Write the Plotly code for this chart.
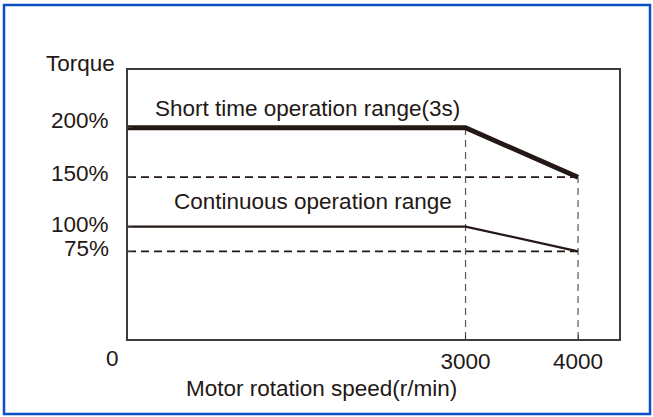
import plotly.graph_objects as go

# Torque characteristics (speed in r/min, torque in %)
speed_points = [0, 3000, 4000]
short_time_torque = [200, 200, 150]
continuous_torque = [100, 100, 75]

speed_ticks = [3000, 4000]
speed_tick_labels = ["3000", "4000"]
torque_ticks = [75, 100, 150, 200]
torque_tick_labels = ["75%", "100%", "150%", "200%"]

short_label = "Short time operation range(3s)"
cont_label = "Continuous operation range"
x_title = "Motor rotation speed(r/min)"
y_title = "Torque"

INK = "#231815"
FRAME = "#3c3c3c"
BLUE = "#0a50c4"
FONT = "Liberation Sans, Arial, Helvetica, sans-serif"
FS = 22.5

W, H = 653, 417
ML, MR, MT, MB = 128, 34, 70, 78
PW, PH = W - ML - MR, H - MT - MB

X_RANGE = [0, 4364]
Y_RANGE = [-13.6, 258.4]

# small upward nudges of the torque labels (px), in tick order
TORQUE_LABEL_SHIFT = [2.5, 2, 4, 7.5]


def px_to_paper_x(px):
    return (px - ML) / PW


def px_to_paper_y(py):
    return (H - MB - py) / PH


def txt(**kw):
    base = dict(showarrow=False, font=dict(size=FS, color=INK, family=FONT))
    base.update(kw)
    return base


fig = go.Figure()

# Dashed reference lines at the reduced torque levels
for lvl_x, lvl_y in [(speed_points[2], short_time_torque[2]),
                     (speed_points[2], continuous_torque[2])]:
    fig.add_trace(go.Scatter(
        x=[speed_points[0], lvl_x], y=[lvl_y, lvl_y], mode="lines",
        line=dict(color=INK, width=1.8, dash="8px,5px"), hoverinfo="skip"))

# Dashed verticals at the corner speeds
for sx, top in [(speed_points[1], short_time_torque[1]),
                (speed_points[2], short_time_torque[2])]:
    fig.add_trace(go.Scatter(
        x=[sx, sx], y=[Y_RANGE[0], top], mode="lines",
        line=dict(color="#555555", width=1.2, dash="7px,5px"), hoverinfo="skip"))

# Torque curves
fig.add_trace(go.Scatter(
    x=speed_points, y=continuous_torque, mode="lines",
    line=dict(color=INK, width=2.2), hoverinfo="skip"))
fig.add_trace(go.Scatter(
    x=speed_points, y=short_time_torque, mode="lines",
    line=dict(color=INK, width=4.8), hoverinfo="skip"))

annotations = [
    txt(x=225, y=219, xref="x", yref="y", text=short_label,
        xanchor="left", yanchor="middle"),
    txt(x=392, y=125, xref="x", yref="y", text=cont_label,
        xanchor="left", yanchor="middle"),
    txt(x=px_to_paper_x(117), y=px_to_paper_y(63), xref="paper", yref="paper",
        text=y_title, xanchor="right", yanchor="middle"),
    txt(x=px_to_paper_x(112), y=px_to_paper_y(358), xref="paper", yref="paper",
        text="0", xanchor="center", yanchor="middle"),
    txt(x=px_to_paper_x(184), y=px_to_paper_y(388), xref="paper", yref="paper",
        text=x_title, xanchor="left", yanchor="middle"),
]

# Torque tick labels, right-aligned left of the frame
for val, lab, dy in zip(torque_ticks, torque_tick_labels, TORQUE_LABEL_SHIFT):
    annotations.append(txt(x=px_to_paper_x(111), y=val, xref="paper", yref="y",
                           text=lab, xanchor="right", yanchor="middle", yshift=dy))

# Blue outer border
shapes = [dict(type="rect", xref="paper", yref="paper",
               x0=px_to_paper_x(4), x1=px_to_paper_x(650),
               y0=px_to_paper_y(414), y1=px_to_paper_y(5),
               line=dict(color=BLUE, width=2.5), fillcolor="rgba(0,0,0,0)",
               layer="above")]

fig.update_layout(
    width=W, height=H,
    margin=dict(l=ML, r=MR, t=MT, b=MB, pad=0),
    paper_bgcolor="white", plot_bgcolor="white",
    showlegend=False,
    font=dict(family=FONT, size=FS, color=INK),
    annotations=annotations,
    shapes=shapes,
    xaxis=dict(range=X_RANGE, tickvals=speed_ticks, ticktext=speed_tick_labels,
               ticks="inside", ticklen=4, tickcolor=FRAME, tickwidth=1,
               showgrid=False, zeroline=False, showline=True, mirror=True,
               linecolor=FRAME, linewidth=1.5, ticklabelstandoff=1,
               tickfont=dict(size=FS, color=INK, family=FONT), fixedrange=True),
    yaxis=dict(range=Y_RANGE, tickvals=torque_ticks, showticklabels=False,
               ticks="inside", ticklen=4, tickcolor=FRAME, tickwidth=1,
               showgrid=False, zeroline=False, showline=True, mirror=True,
               linecolor=FRAME, linewidth=1.5, fixedrange=True),
)

fig.write_html("out.html")
